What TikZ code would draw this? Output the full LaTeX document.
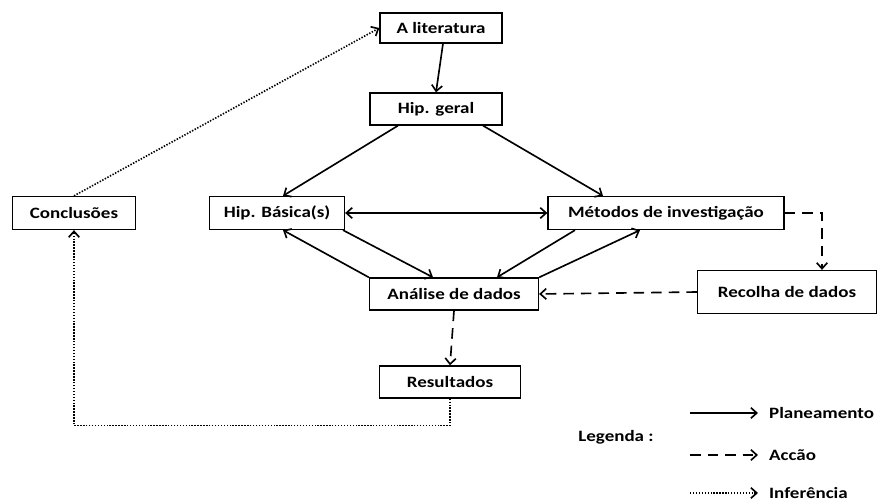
\documentclass[tikz,border=0pt]{standalone}
\usepackage{fontspec}
\newfontfamily\diagfont{Carlito}[FakeStretch=1.2]
\usetikzlibrary{arrows.meta,calc,positioning}

\begin{document}
\begin{tikzpicture}[x=0.03cm,y=-0.03cm,
    >={Straight Barb[length=5pt,width=9pt]},
    every node/.style={font=\diagfont\bfseries\fontsize{13.5pt}{15pt}\selectfont},
    caixa/.style={draw,line width=1.1pt,inner sep=0pt,minimum height=0.96cm},
    planeamento/.style={->,line width=1.4pt},
    accao/.style={->,line width=1.4pt,dash pattern=on 9pt off 6pt},
    inferencia/.style={->,line width=1.4pt,dash pattern=on 1.2pt off 1.3pt}]
\useasboundingbox (0,0) rectangle (880,503);

% caixas
\node[caixa,minimum width=3.66cm,minimum height=0.9cm] (lit) at (441,28) {A literatura};
\node[caixa,minimum width=3.96cm] (geral) at (436,109) {Hip. geral};
\node[caixa,minimum width=3.69cm,minimum height=0.99cm] (concl) at (74,213) {Conclusões};
\node[caixa,minimum width=4.05cm,minimum height=0.99cm] (basica) at (277,213) {Hip. Básica(s)};
\node[caixa,minimum width=7.08cm,minimum height=0.99cm] (metodos) at (666,213) {Métodos de investigação};
\node[caixa,minimum width=5.37cm,minimum height=1.29cm] (recolha) at (787,292) {Recolha de dados};
\node[caixa,minimum width=5.07cm] (analise) at (454,294) {Análise de dados};
\node[caixa,minimum width=4.23cm] (result) at (450,382) {Resultados};

% planeamento
\draw[planeamento] ($(lit.south)+(2,0)$) -- (geral.north);
\draw[planeamento] ($(geral.south)+(-38,0)$) -- ($(basica.north)+(6,0)$);
\draw[planeamento] ($(geral.south)+(47,0)$) -- ($(metodos.north)+(-63,0)$);
\draw[planeamento,<->] (basica.east) -- (metodos.west);
\draw[planeamento] ($(basica.south)+(66,0)$) -- ($(analise.north)+(-21,0)$);
\draw[planeamento] (analise.north west) -- ($(basica.south)+(6,0)$);
\draw[planeamento] ($(metodos.south)+(-91,0)$) -- ($(analise.north)+(43,0)$);
\draw[planeamento] (analise.north east) -- ($(metodos.south)+(-26,0)$);

% accao
\draw[accao] (metodos.east) -| ($(recolha.north)+(35,0)$);
\draw[accao] (recolha.west) -- (analise.east);
\draw[accao] (analise.south) -- (result.north);

% inferencia
\draw[inferencia] (result.south) -- ++(0,27) -| (concl.south);
\draw[inferencia] (concl.north) -- (lit.west);

% legenda
\node (legenda) at (616,437) {Legenda :};
\node[anchor=west] (plan) at (765,413) {Planeamento};
\node[anchor=west] (acc) at (765,455) {Accão};
\node[anchor=west] (inf) at (765,493) {Inferência};
\coordinate (p0) at (690,413);
\coordinate (a0) at (690,455);
\coordinate (i0) at (690,493);
\draw[planeamento,shorten >=6pt] (p0) -- (plan.west);
\draw[accao,shorten >=6pt] (a0) -- (acc.west);
\draw[inferencia,shorten >=6pt] (i0) -- (inf.west);
\end{tikzpicture}
\end{document}
